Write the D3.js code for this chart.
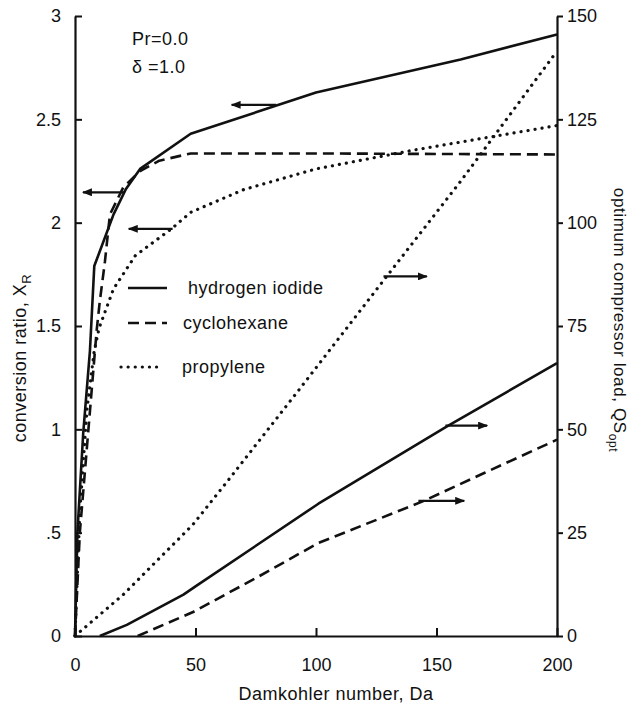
<!DOCTYPE html>
<html>
<head>
<meta charset="utf-8">
<script src="https://cdn.jsdelivr.net/npm/d3@7"></script>
<style>
  body { margin: 0; background: #fff; }
  text { font-family: "Liberation Sans", Arial, sans-serif; fill: #111; }
</style>
</head>
<body>
<div class="canva"></div>
<script>
// Da values and curve values
const hiDa = [0, 1, 3.4, 6.2, 8, 16, 21, 27, 48, 100, 160, 200];
const hiX  = [0, 0.5, 0.98, 1.38, 1.79, 2.04, 2.16, 2.26, 2.43, 2.63, 2.79, 2.91];
const chDa = [0, 2, 5.5, 9, 10.3, 12.4, 14.5, 20, 27, 35, 48, 100, 200];
const chX  = [0, 0.5, 0.99, 1.48, 1.62, 1.81, 2.04, 2.17, 2.25, 2.3, 2.335, 2.335, 2.33];
const prDa = [0, 2, 5, 8, 10, 16, 25, 40, 48, 70, 100, 140, 170, 200];
const prX  = [0, 0.6, 1.1, 1.38, 1.49, 1.68, 1.84, 1.97, 2.05, 2.16, 2.26, 2.35, 2.41, 2.47];

const hiQDa = [10.3, 21.5, 45, 50, 101, 154, 200];
const hiQ   = [0, 2.7, 10, 12, 32, 50.6, 66];
const chQDa = [26, 49, 75, 101, 144, 170, 200];
const chQ   = [0, 5.8, 14, 22.5, 32.5, 39.5, 47.5];
const prQDa = [0, 3, 20, 49, 64, 93, 128, 160, 200];
const prQ   = [0, 1.5, 10, 27, 38, 59.6, 86, 110, 141.5];

const xTicks = [0, 50, 100, 150, 200];
const leftTicks = [0, 0.5, 1, 1.5, 2, 2.5, 3];
const rightTicks = [0, 25, 50, 75, 100, 125, 150];

// arrows: which axis they point to, tail Da, head Da, level
const arrows = [
  { axis: "left", from: 83.5, to: 65, v: 2.57 },
  { axis: "left", from: 20.7, to: 3.3, v: 2.147 },
  { axis: "left", from: 40.5, to: 22.3, v: 1.97 },
  { axis: "right", from: 128, to: 146, v: 87 },
  { axis: "right", from: 153.7, to: 171, v: 50.9 },
  { axis: "right", from: 142.5, to: 161.5, v: 32.7 }
];

const legendNames = ["hydrogen iodide", "cyclohexane", "propylene"];
const dashes = [null, "11,6", "0.1,7"];

const W = 631, H = 705;
const svg = d3.select(".canva").append("svg")
    .attr("width", W)
    .attr("height", H);

const x = d3.scaleLinear().domain([0, 200]).range([75, 557]);
const yL = d3.scaleLinear().domain([0, 3]).range([636, 16]);
const yR = d3.scaleLinear().domain([0, 150]).range([636, 16]);

svg.append("defs").append("marker")
    .attr("id", "head")
    .attr("viewBox", "0 0 10 8")
    .attr("refX", 9).attr("refY", 4)
    .attr("markerWidth", 10).attr("markerHeight", 8)
    .attr("markerUnits", "userSpaceOnUse")
    .attr("orient", "auto")
  .append("path")
    .attr("d", "M0,0 L10,4 L0,8 Z")
    .attr("fill", "#111");

// axes
const gx = svg.append("g").attr("transform", "translate(0,636)")
    .call(d3.axisBottom(x).tickValues(xTicks).tickSize(-8).tickSizeOuter(0));
gx.selectAll("text").attr("y", 35).attr("dy", 0);

const gl = svg.append("g").attr("transform", "translate(75,0)")
    .call(d3.axisLeft(yL).tickValues(leftTicks).tickSize(-7).tickSizeOuter(0).tickPadding(14)
      .tickFormat(d => d === 0 ? "0" : String(d).replace(/^0\./, ".")));

const gr = svg.append("g").attr("transform", "translate(557,0)")
    .call(d3.axisRight(yR).tickValues(rightTicks).tickSize(6).tickSizeOuter(0).tickPadding(4));

[gx, gl, gr].forEach(g => {
  g.select(".domain").attr("stroke", "#111").attr("stroke-width", 2.2);
  g.selectAll(".tick line").attr("stroke", "#111").attr("stroke-width", 2);
  g.selectAll("text").style("font-family", "'Liberation Sans', Arial, sans-serif")
    .style("font-size", "18px").attr("fill", "#111");
});

// curves
const series = [
  { da: hiDa, v: hiX, y: yL, k: 0 },
  { da: chDa, v: chX, y: yL, k: 1 },
  { da: prDa, v: prX, y: yL, k: 2 },
  { da: hiQDa, v: hiQ, y: yR, k: 0 },
  { da: chQDa, v: chQ, y: yR, k: 1 },
  { da: prQDa, v: prQ, y: yR, k: 2 }
];

series.forEach(s => {
  const line = d3.line().x((d, i) => x(s.da[i])).y(d => s.y(d));
  svg.append("path")
      .attr("d", line(s.v))
      .attr("fill", "none")
      .attr("stroke", "#111")
      .attr("stroke-width", s.k === 2 ? 3.2 : 2.6)
      .attr("stroke-linecap", s.k === 2 ? "round" : "butt")
      .attr("stroke-linejoin", "round")
      .attr("stroke-dasharray", dashes[s.k]);
});

// arrows
svg.selectAll(".arrow").data(arrows).enter().append("line")
    .attr("class", "arrow")
    .attr("x1", d => x(d.from))
    .attr("x2", d => x(d.to))
    .attr("y1", d => (d.axis === "left" ? yL : yR)(d.v))
    .attr("y2", d => (d.axis === "left" ? yL : yR)(d.v))
    .attr("stroke", "#111")
    .attr("stroke-width", 2.2)
    .attr("marker-end", "url(#head)");

// legend
const legY = [288, 323, 367];
const legX = [[128, 167], [128, 167], [121, 157]];
const legTx = [188, 183, 182];
legendNames.forEach((name, i) => {
  svg.append("line")
      .attr("x1", legX[i][0]).attr("x2", legX[i][1])
      .attr("y1", legY[i]).attr("y2", legY[i])
      .attr("stroke", "#111")
      .attr("stroke-width", i === 2 ? 3.2 : 2.6)
      .attr("stroke-linecap", i === 2 ? "round" : "butt")
      .attr("stroke-dasharray", dashes[i]);
  svg.append("text")
      .attr("x", legTx[i]).attr("y", legY[i] + 6)
      .style("font-size", "18px")
      .style("letter-spacing", "0.5px")
      .text(name);
});

// annotations
svg.append("text").attr("x", 132).attr("y", 45)
    .style("font-size", "18px").style("letter-spacing", "0.5px").text("Pr=0.0");
svg.append("text").attr("x", 132).attr("y", 73)
    .style("font-size", "18px").style("letter-spacing", "0.5px").text("\u03b4 =1.0");

// axis titles
svg.append("text")
    .attr("x", 336).attr("y", 700)
    .attr("text-anchor", "middle")
    .style("font-size", "18px").style("letter-spacing", "0.5px")
    .text("Damkohler number, Da");

const tl = svg.append("text")
    .attr("transform", "translate(26,358) rotate(-90)")
    .attr("text-anchor", "middle")
    .style("font-size", "18px").style("letter-spacing", "0.5px");
tl.append("tspan").text("conversion ratio, X");
tl.append("tspan").attr("dy", 5).style("font-size", "13px").text("R");

const tr = svg.append("text")
    .attr("transform", "translate(614,320) rotate(90)")
    .attr("text-anchor", "middle")
    .style("font-size", "17px").style("letter-spacing", "0.6px");
tr.append("tspan").text("optimum compressor load, QS");
tr.append("tspan").attr("dy", 5).style("font-size", "12px").text("opt");
</script>
</body>
</html>
